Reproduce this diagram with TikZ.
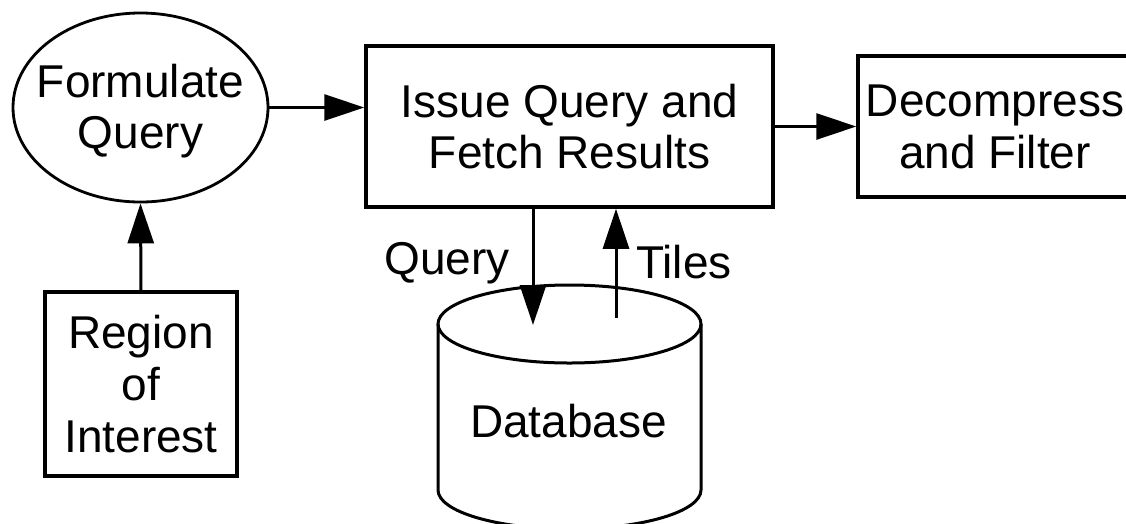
\documentclass[tikz,border=0pt]{standalone}
\usepackage{fontspec}
\setmainfont{Liberation Sans}
\usetikzlibrary{arrows.meta,shapes.geometric}
\begin{document}
\begin{tikzpicture}[x=1pt,y=-1pt,
  box/.style={draw,line width=3.5pt,rectangle,inner sep=0pt},
  oval/.style={draw,line width=2.8pt,ellipse,inner sep=0pt},
  dbline/.style={line width=3pt},
  txt/.style={anchor=base,inner sep=0pt,font=\fontsize{46}{52}\selectfont},
  flow/.style={line width=3pt,-{Triangle[length=40pt,width=26pt]}},
]
\clip (0,0) rectangle (1126,523);
\fill[white] (0,0) rectangle (1126,523);

% shapes
\node[oval,minimum width=255pt,minimum height=189pt] (form) at (140.5,107.5) {};
\node[box,minimum width=407pt,minimum height=161pt] (issue) at (569.5,126.5) {};
\node[box,minimum width=274pt,minimum height=141pt] (dec) at (995,126.5) {};
\node[box,minimum width=192pt,minimum height=184pt] (roi) at (141,384) {};

% database cylinder
\draw[dbline] (569.5,324) ellipse [x radius=131.5pt, y radius=39pt];
\draw[dbline] (438,324) -- (438,490) arc[start angle=180, end angle=360, x radius=131.5pt, y radius=39pt] -- (701,324);

% texts
\node[txt] (form1) at (140.5,97) {Formulate};
\node[txt] (form2) at (140.5,148) {Query};
\node[txt] (issue1) at (569.5,117) {Issue Query and};
\node[txt] (issue2) at (569.5,168) {Fetch Results};
\node[txt] (dec1) at (995,116) {Decompress};
\node[txt] (dec2) at (995,168) {and Filter};
\node[txt] (roi1) at (141,348) {Region};
\node[txt] (roi2) at (141,400) {of};
\node[txt] (roi3) at (141,452) {Interest};
\node[txt] (db) at (568.5,437) {Database};
\node[txt] (qlab) at (447,274) {Query};
\node[txt] (tlab) at (684,278) {Tiles};

% connectors
\coordinate (qend) at (533,325);
\coordinate (tstart) at (616,318);
\draw[flow] (form.east) -- (form.east -| issue.west);
\draw[flow] (issue.east) -- (dec.west);
\draw[flow] (roi.north) -- (form.south);
\draw[flow] (issue.south -| qend) -- (qend);
\draw[flow] (tstart) -- (tstart |- issue.south);
\end{tikzpicture}
\end{document}
